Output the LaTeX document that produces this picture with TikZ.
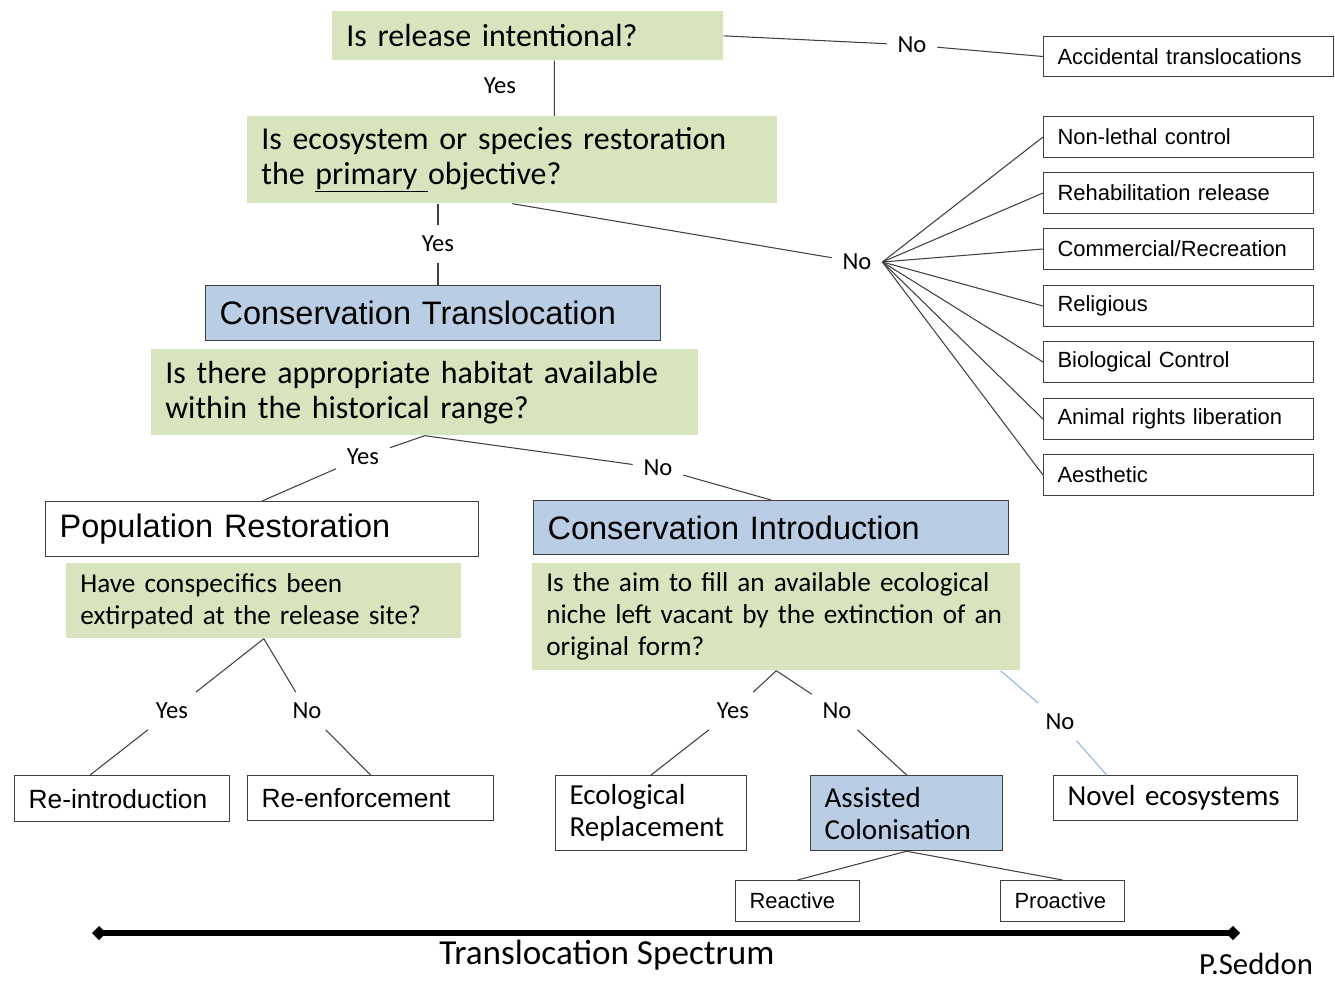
\documentclass[tikz,border=0pt]{standalone}
\usepackage{fontspec}
\setmainfont{Carlito}
\newfontfamily\arialf{Liberation Sans}
\usetikzlibrary{arrows.meta}
\definecolor{qgreen}{HTML}{D7E4BD}
\definecolor{cblue}{HTML}{B9CDE5}
\definecolor{lineg}{HTML}{404040}
\definecolor{noblue}{HTML}{8EB4E3}

\begin{document}
\begin{tikzpicture}[x=0.02cm,y=-0.02cm,
  q/.style={fill=qgreen,anchor=north west,align=left,inner xsep=0.28cm,inner ysep=0pt,font=\fontsize{18.2}{19.9}\selectfont},
  qs/.style={q,font=\fontsize{15.5}{18.2}\selectfont},
  big/.style={draw=lineg,line width=0.7pt,anchor=north west,align=left,inner xsep=0.28cm,inner ysep=0pt,font=\arialf\fontsize{18.5}{22}\selectfont},
  why/.style={draw=lineg,line width=0.6pt,anchor=north west,align=left,inner xsep=0.28cm,inner ysep=0pt,text width=4.84cm,minimum height=0.82cm,font=\arialf\fontsize{12.5}{15}\selectfont},
  res/.style={draw=lineg,line width=0.7pt,anchor=north west,align=left,inner xsep=0.28cm,inner ysep=0pt,font=\fontsize{16.5}{18.2}\selectfont},
  yn/.style={inner sep=6pt,font=\fontsize{14}{16}\selectfont},
  conn/.style={draw=lineg,line width=0.6pt}]
\useasboundingbox (0,0) rectangle (1335,982);

% questions
\node[q,text width=7.26cm,minimum height=0.98cm] (q1) at (332,11) {Is release intentional?};
\node[q,text width=10.04cm,minimum height=1.74cm] (q2) at (247,116) {Is ecosystem or species restoration\\the \underline{primary\ }objective?};
\node[q,text width=10.38cm,minimum height=1.72cm] (q3) at (151,349) {Is there appropriate habitat available\\within the historical range?};
\node[qs,text width=7.34cm,minimum height=1.5cm] (q4) at (66,563) {Have conspecifics been\\extirpated at the release site?};
\node[qs,text width=9.2cm,minimum height=2.14cm] (q5) at (532,563) {Is the aim to fill an available ecological\\niche left vacant by the extinction of an\\original form?};

% big boxes
\node[big,fill=cblue,text width=8.54cm,minimum height=1.1cm] (ct) at (205,285) {Conservation Translocation};
\node[big,fill=white,text width=8.1cm,minimum height=1.1cm] (pr) at (45,501) {Population Restoration};
\node[big,fill=cblue,text width=8.94cm,minimum height=1.08cm] (ci) at (533,500) {Conservation Introduction};

% not conservation
\node[why,text width=5.24cm,minimum height=0.8cm] (acc) at (1043,36) {Accidental translocations};
\node[why] (nl) at (1043,116) {Non-lethal control};
\node[why] (rr) at (1043,172) {Rehabilitation release};
\node[why] (cr) at (1043,228) {Commercial/Recreation};
\node[why] (rg) at (1043,285) {Religious};
\node[why] (bc) at (1043,341) {Biological Control};
\node[why] (ar) at (1043,398) {Animal rights liberation};
\node[why] (ae) at (1043,454) {Aesthetic};

% outcomes
\node[res,font=\arialf\fontsize{15}{18}\selectfont,text width=3.74cm,minimum height=0.92cm] (ri) at (14,775) {Re-introduction};
\node[res,font=\arialf\fontsize{15}{18}\selectfont,text width=4.36cm,minimum height=0.9cm] (re) at (247,775) {Re-enforcement};
\node[res,text width=3.26cm,minimum height=1.5cm] (er) at (555,775) {Ecological\\Replacement};
\node[res,fill=cblue,text width=3.28cm,minimum height=1.5cm] (ac) at (810,775) {Assisted\\Colonisation};
\node[res,text width=4.32cm,minimum height=0.9cm] (nv) at (1053,775) {Novel ecosystems};
\node[why,text width=1.92cm] (rx) at (735,880) {Reactive};
\node[why,text width=1.92cm] (px) at (1000,880) {Proactive};

% yes / no
\node[yn] (yes1) at (500,86) {Yes};
\node[yn] (no1) at (912,45) {No};
\node[yn] (yes2) at (438,244) {Yes};
\node[yn] (no2) at (857,262) {No};
\node[yn] (yes3) at (363,457) {Yes};
\node[yn] (no3) at (658,468) {No};
\node[yn] (yes4) at (172,711) {Yes};
\node[yn] (no4) at (307,711) {No};
\node[yn] (yes5) at (733,711) {Yes};
\node[yn] (no5) at (837,711) {No};
\node[yn] (no6) at (1060,722) {No};

% lines
\draw[conn] ([xshift=0.53cm]q1.south) -- ([xshift=0.84cm]q2.north);
\draw[conn] (q1.east) -- (no1) -- (acc.west);
\draw[conn] (q2.south -| yes2) -- (yes2) -- (yes2 |- ct.north);
\draw[conn] (q2.south) -- (no2);
\foreach \b in {nl,rr,cr,rg,bc,ar,ae}
  \draw[conn] (no2.east) -- (\b.west);
\draw[conn] (q3.south) -- (yes3) -- (pr.north);
\draw[conn] (q3.south) -- (no3) -- (ci.north);
\draw[conn] (q4.south) -- (yes4) -- ([xshift=-0.64cm]ri.north);
\draw[conn] (q4.south) -- (no4) -- (re.north);
\draw[conn] (q5.south) -- (yes5) -- (er.north);
\draw[conn] (q5.south) -- (no5) -- (ac.north);
\draw[conn,draw=noblue] ([xshift=-0.4cm]q5.south east) -- (no6) -- ([xshift=-1.38cm]nv.north);
\draw[conn] (ac.south) -- (rx.north);
\draw[conn] (ac.south) -- (px.north);

% spectrum
\coordinate (sl) at (92,933);
\coordinate (sr) at (1240,933);
\draw[line width=3.4pt,{Diamond[length=8pt,width=8pt]}-{Diamond[length=8pt,width=8pt]}] (sl) -- (sr);
\node[font=\fontsize{20}{24}\selectfont] (ts) at (607,955) {Translocation Spectrum};
\node[font=\fontsize{17.5}{21}\selectfont,inner sep=1pt] (ps) at (1256,964) {P.Seddon};
\end{tikzpicture}
\end{document}
